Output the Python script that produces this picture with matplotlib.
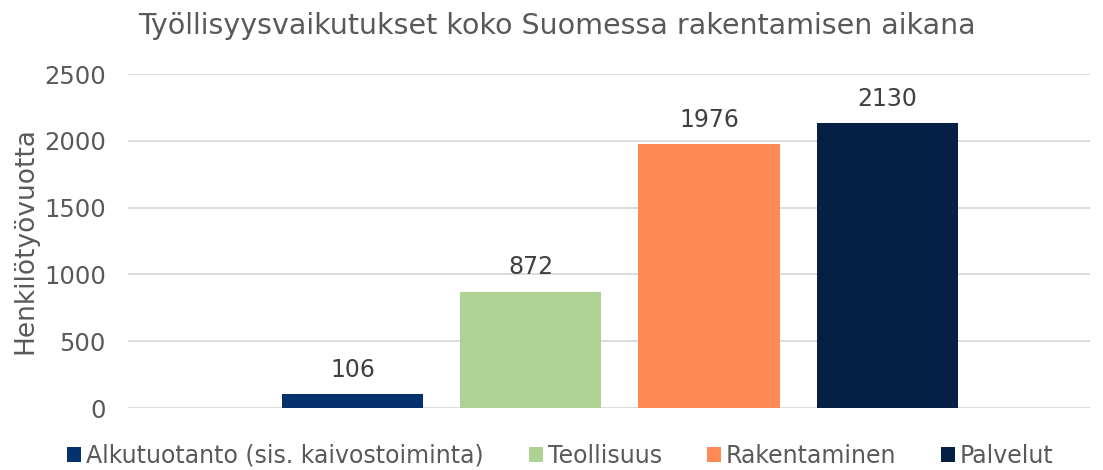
import matplotlib
matplotlib.use("Agg")
import matplotlib.pyplot as plt

title = "Työllisyysvaikutukset koko Suomessa rakentamisen aikana"
series = ["Alkutuotanto (sis. kaivostoiminta)", "Teollisuus", "Rakentaminen", "Palvelut"]
values = [106, 872, 1976, 2130]
colors = ["#05316C", "#AED294", "#FF8A56", "#061F45"]
yticks = [0, 500, 1000, 1500, 2000, 2500]

plt.rcParams['font.family'] = ['DejaVu Sans']
txt = "#595959"

fig = plt.figure(figsize=(11.03, 4.70), dpi=100)
ax = fig.add_axes([128/1103, 1-408/470, (1090-128)/1103, (408-74)/470])

for i, (name, v, c) in enumerate(zip(series, values, colors)):
    ax.bar(i + 1, v, width=0.792, color=c, label=name, zorder=3)
    ax.text(i + 1, v + 90, str(v), ha="center", va="bottom", fontsize=17, color="#404040")

ax.set_xlim(-0.261, 5.138)
ax.set_ylim(0, 2500)
ax.set_yticks(yticks)
ax.set_xticks([])
ax.grid(axis="y", color="#D9D9D9", linewidth=1.3, zorder=0)
for s in ax.spines.values():
    s.set_visible(False)
ax.tick_params(axis="y", length=0, labelsize=17.5, labelcolor=txt, pad=16)
ax.set_ylabel("Henkilötyövuotta", fontsize=19, color=txt, labelpad=4)

fig.text(0.505, 0.945, title, ha="center", va="center", fontsize=20.5, color=txt)

fig.legend(loc="lower center", bbox_to_anchor=(0.508, -0.04), ncol=4, frameon=False,
           fontsize=17, labelcolor=txt, handlelength=0.6, handleheight=0.6,
           handletextpad=0.2, columnspacing=1.9)

fig.savefig("out.png", dpi=100)
